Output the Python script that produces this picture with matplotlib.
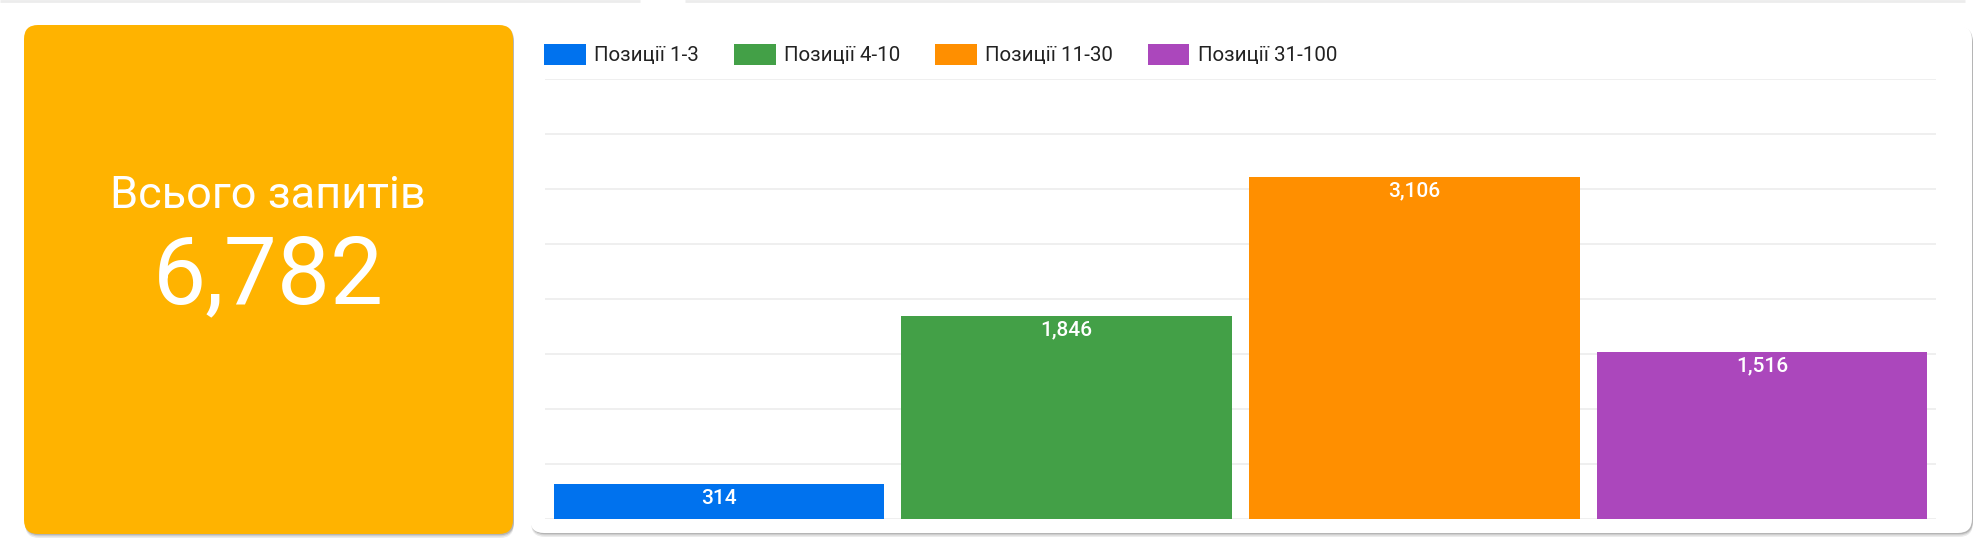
import matplotlib
matplotlib.use("Agg")
import matplotlib.pyplot as plt
from matplotlib.patches import FancyBboxPatch

plt.rcParams['font.family'] = ['Roboto', 'DejaVu Sans']

# data
total_label = "Всього запитів"
total_value = 6782
categories = ["Позиції 1-3", "Позиції 4-10", "Позиції 11-30", "Позиції 31-100"]
values = [314, 1846, 3106, 1516]
colors = ["#0072EE", "#43A047", "#FF8F00", "#AB47BC"]

W, H = 1977, 542
fig = plt.figure(figsize=(W/100, H/100), dpi=100)
fig.patch.set_facecolor("white")

# background layer in pixel units
bg = fig.add_axes([0, 0, 1, 1])
bg.set_xlim(0, W)
bg.set_ylim(H, 0)
bg.axis("off")

bg.plot([0, 640], [1, 1], color="#ececec", lw=2, solid_capstyle="butt")
bg.plot([685, 1965], [1, 1], color="#ececec", lw=2, solid_capstyle="butt")

def card(x0, y0, x1, y1, fc):
    for d, a in [(4, 0.08), (2.5, 0.10), (1.2, 0.14)]:
        bg.add_patch(FancyBboxPatch((x0 + 1, y0 + d), x1 - x0, y1 - y0,
                                    boxstyle="round,pad=0,rounding_size=14",
                                    fc="black", ec="none", alpha=a))
    bg.add_patch(FancyBboxPatch((x0, y0), x1 - x0, y1 - y0,
                                boxstyle="round,pad=0,rounding_size=14",
                                fc=fc, ec="none"))

card(24, 25, 513, 534, "#FFB300")
card(530, 26, 1972, 533, "white")

bg.text(268, 196, total_label, color="white", fontsize=32.5,
        ha="center", va="center")
bg.text(268, 277, f"{total_value:,}", color="white", fontsize=68,
        ha="center", va="center")

# bar chart
ax = fig.add_axes([545/W, 1 - 519/H, (1936 - 545)/W, (519 - 79)/H])
ax.set_facecolor("none")
x = range(len(values))
bars = ax.bar(x, values, width=0.95, color=colors, zorder=2, label=categories)
ax.set_xlim(-0.5, len(values) - 0.5)
ax.set_ylim(0, 4000)
ax.set_yticks(range(0, 4001, 500))
ax.grid(axis="y", color="#eeeeee", lw=1.3, zorder=0)
ax.tick_params(left=False, bottom=False, labelleft=False, labelbottom=False)
for s in ax.spines.values():
    s.set_visible(False)

for b, v in zip(bars, values):
    ax.annotate(f"{v:,}", (b.get_x() + b.get_width()/2, v),
                xytext=(0, -10), textcoords="offset points",
                ha="center", va="center", color="white", fontsize=15,
                fontweight="medium")

fig.legend(bars, categories, loc="center left",
           bbox_to_anchor=(544/W, 1 - 54.5/H), ncol=4, frameon=False,
           fontsize=14.8, handlelength=2.04, handleheight=1.19,
           handletextpad=0.39, columnspacing=1.7, borderaxespad=0,
           borderpad=0, labelcolor="#222222")

fig.savefig("out.png", dpi=100, facecolor="white")
